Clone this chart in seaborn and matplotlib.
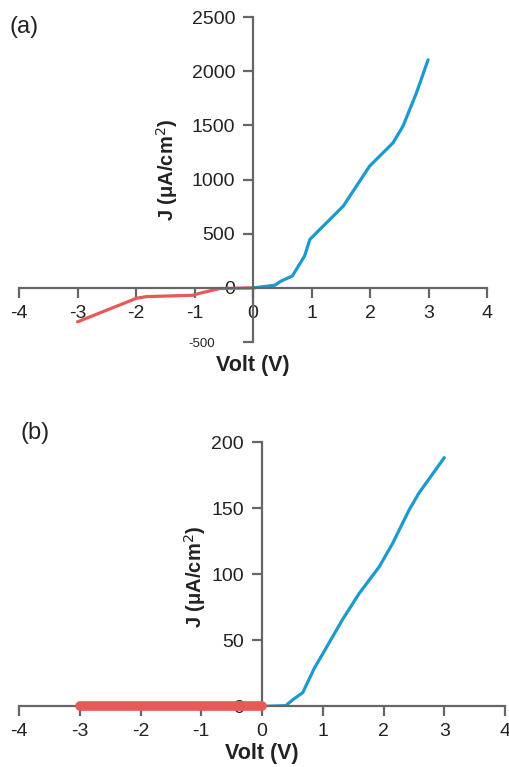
import numpy as np
import pandas as pd
import seaborn as sns
from matplotlib import pyplot as plt
from matplotlib.transforms import ScaledTranslation

sns.set_theme(style='white')
plt.rcParams['font.family'] = ['Liberation Sans', 'DejaVu Sans']

# panel (a): forward (blue) and reverse (red) bias
va_fwd = [0, 0.37, 0.48, 0.67, 0.88, 0.97, 1.14, 1.54, 1.99, 2.39, 2.56, 2.79, 2.99]
ja_fwd = [0, 25, 64, 110, 295, 448, 540, 755, 1124, 1339, 1492, 1799, 2106]
va_rev = [0, -0.57, -0.91, -1.03, -1.82, -1.99, -3.0]
ja_rev = [0, -6, -49, -68, -80, -95, -313]

# panel (b)
vb_fwd = [0, 0.39, 0.5, 0.67, 0.86, 1.02, 1.32, 1.60, 1.93, 2.15, 2.42, 2.58, 3.0]
jb_fwd = [0, 0.5, 4.8, 10.4, 28.8, 41.4, 65.4, 85.6, 105.8, 123.5, 148.7, 161.4, 188.4]
vb_rev = [-3.0, -2.0, -1.0, 0]
jb_rev = [0, 0, 0, 0]

blue = '#1b9ad0'
red = '#e85a56'
grey = '#666666'
txt = '#222222'

fig = plt.figure(figsize=(5.1, 7.67), dpi=100)
ax_a = fig.add_axes([0.0373, 0.554, 0.918, 0.4237])
ax_b = fig.add_axes([0.0373, 0.0791, 0.953, 0.3442])


def style_axes(ax, ylim, yticks, ylabels):
    ax.set_xlim(-4, 4)
    ax.set_ylim(*ylim)
    for s in ['top', 'right']:
        ax.spines[s].set_visible(False)
    ax.spines['left'].set_position(('data', 0))
    ax.spines['bottom'].set_position(('data', 0))
    for s in ['left', 'bottom']:
        ax.spines[s].set_color(grey)
        ax.spines[s].set_linewidth(1.6)
    ax.set_xticks(range(-4, 5))
    ax.set_xticklabels([str(i) for i in range(-4, 5)])
    ax.set_yticks(yticks)
    ax.set_yticklabels(ylabels)
    ax.tick_params(axis='both', direction='out', length=7, width=1.6, color=grey,
                   labelsize=14, labelcolor=txt, bottom=True, left=True)
    ax.tick_params(axis='x', pad=5)
    ax.tick_params(axis='y', pad=6)
    ax.patch.set_alpha(0)
    ax.set_xlabel('')
    ax.set_ylabel('')


# (a)
sns.lineplot(x=va_fwd, y=ja_fwd, ax=ax_a, color=blue, lw=2.3, sort=False)
sns.lineplot(x=va_rev, y=ja_rev, ax=ax_a, color=red, lw=2.3, sort=False)
style_axes(ax_a, (-500, 2500), [-500, 0, 500, 1000, 1500, 2000, 2500],
           ['-500', '0', '500', '1000', '1500', '2000', '2500'])
lab_m500 = ax_a.get_yticklabels()[0]
lab_m500.set_fontsize(9.5)
lab_m500.set_transform(lab_m500.get_transform() + ScaledTranslation(-0.2, 0, fig.dpi_scale_trans))
ax_a.text(-1.47, 1094, 'J (\u03bcA/cm$^2$)', rotation=90, ha='center', va='center',
          fontsize=14.5, fontweight='bold', color=txt)
ax_a.text(0, -720, 'Volt (V)', ha='center', va='center', fontsize=15.5,
          fontweight='bold', color=txt)
fig.text(0.018, 0.965, '(a)', fontsize=17, ha='left', va='center', color=txt)

# (b)
sns.lineplot(x=vb_fwd, y=jb_fwd, ax=ax_b, color=blue, lw=2.3, sort=False)
ax_b.plot(vb_rev, jb_rev, color=red, lw=7, solid_capstyle='round', clip_on=False, zorder=5)
style_axes(ax_b, (0, 200), [0, 50, 100, 150, 200], ['0', '50', '100', '150', '200'])
ax_b.text(-1.1, 98, 'J (\u03bcA/cm$^2$)', rotation=90, ha='center', va='center',
          fontsize=14.5, fontweight='bold', color=txt)
ax_b.text(0, -36, 'Volt (V)', ha='center', va='center', fontsize=15.5,
          fontweight='bold', color=txt)
fig.text(0.04, 0.435, '(b)', fontsize=17, ha='left', va='center', color=txt)

fig.savefig('out.png', dpi=100)
